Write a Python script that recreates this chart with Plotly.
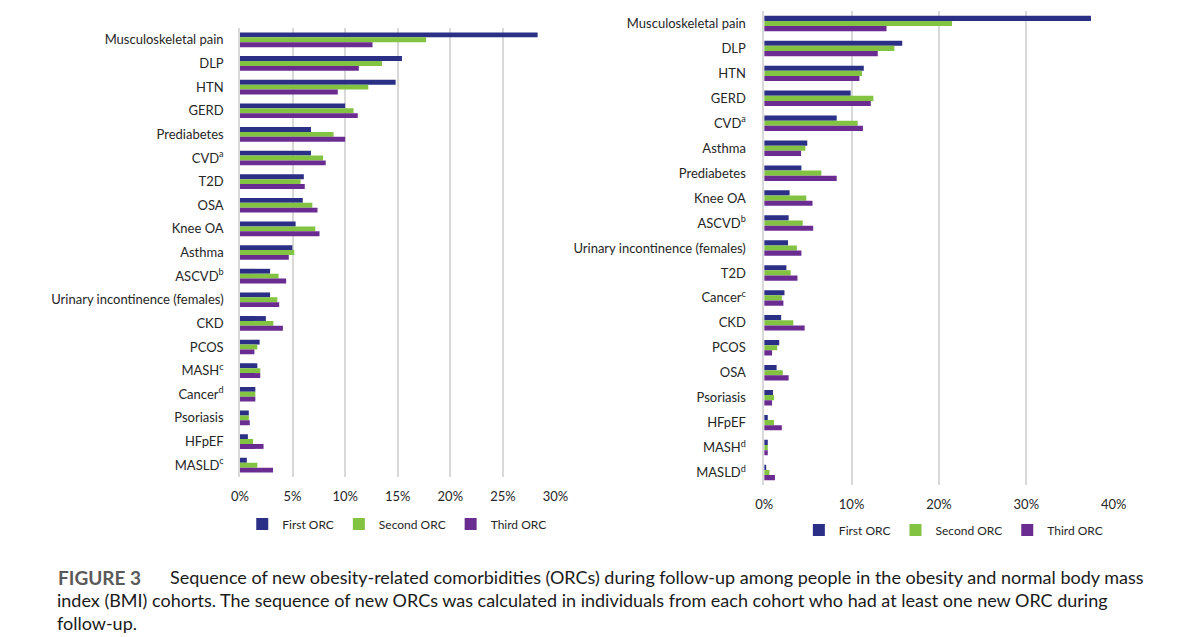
import plotly.graph_objects as go

# ---------------- data ----------------
left_categories = ["Musculoskeletal pain", "DLP", "HTN", "GERD", "Prediabetes", "CVD<sup>a</sup>", "T2D", "OSA",
                   "Knee OA", "Asthma", "ASCVD<sup>b</sup>", "Urinary incontinence (females)", "CKD", "PCOS",
                   "MASH<sup>c</sup>", "Cancer<sup>d</sup>", "Psoriasis", "HFpEF", "MASLD<sup>c</sup>"]
left_first = [28.3, 15.4, 14.8, 10.0, 6.75, 6.75, 6.07, 5.97, 5.29, 4.98, 2.86, 2.86, 2.46, 1.87, 1.65, 1.46, 0.84, 0.75, 0.65]
left_second = [17.7, 13.5, 12.2, 10.8, 8.9, 7.9, 5.76, 6.88, 7.16, 5.16, 3.67, 3.55, 3.17, 1.65, 1.93, 1.46, 0.84, 1.24, 1.65]
left_third = [12.6, 11.3, 9.3, 11.2, 10.0, 8.15, 6.16, 7.37, 7.56, 4.64, 4.39, 3.73, 4.08, 1.37, 1.93, 1.46, 0.93, 2.24, 3.14]

right_categories = ["Musculoskeletal pain", "DLP", "HTN", "GERD", "CVD<sup>a</sup>", "Asthma", "Prediabetes",
                    "Knee OA", "ASCVD<sup>b</sup>", "Urinary incontinence (females)", "T2D", "Cancer<sup>c</sup>",
                    "CKD", "PCOS", "OSA", "Psoriasis", "HFpEF", "MASH<sup>d</sup>", "MASLD<sup>d</sup>"]
right_first = [37.4, 15.8, 11.4, 9.9, 8.3, 4.93, 4.26, 2.91, 2.80, 2.73, 2.54, 2.32, 1.94, 1.72, 1.42, 1.0, 0.41, 0.41, 0.22]
right_second = [21.5, 14.9, 11.2, 12.5, 10.7, 4.71, 6.54, 4.82, 4.41, 3.74, 3.03, 2.02, 3.33, 1.49, 2.13, 1.12, 1.12, 0.41, 0.6]
right_third = [14.0, 13.0, 10.9, 12.2, 11.3, 4.22, 8.3, 5.53, 5.61, 4.26, 3.81, 2.20, 4.63, 0.9, 2.8, 0.9, 2.02, 0.41, 1.23]

series_names = ["First ORC", "Second ORC", "Third ORC"]
colors = ["#2B2F85", "#82C341", "#6B2C91"]

left_tickvals = [0, 5, 10, 15, 20, 25, 30]
left_ticktext = ["0%", "5%", "10%", "15%", "20%", "25%", "30%"]
right_tickvals = [0, 10, 20, 30, 40]
right_ticktext = ["0%", "10%", "20%", "30%", "40%"]

caption_label = "FIGURE 3"
caption_lines = [
    "Sequence of new obesity-related comorbidities (ORCs) during follow-up among people in the obesity and normal body mass",
    "index (BMI) cohorts. The sequence of new ORCs was calculated in individuals from each cohort who had at least one new ORC during",
    "follow-up.",
]

# ---------------- figure ----------------
W, H = 1200, 637
fig = go.Figure()

for vals, name, col in zip([left_first, left_second, left_third], series_names, colors):
    fig.add_trace(go.Bar(y=left_categories, x=vals, orientation="h", name=name,
                         marker=dict(color=col, line=dict(width=0)),
                         xaxis="x", yaxis="y", legend="legend"))
for vals, name, col in zip([right_first, right_second, right_third], series_names, colors):
    fig.add_trace(go.Bar(y=right_categories, x=vals, orientation="h", name=name,
                         marker=dict(color=col, line=dict(width=0)),
                         xaxis="x2", yaxis="y2", legend="legend2"))

def px_x(p):
    return p / W

def px_y(p):
    return 1 - p / H

grid = "#D9D9D9"
catfont = dict(family="Lato, Open Sans, sans-serif", size=13, color="#262626")
tickfont = dict(family="Lato, Open Sans, sans-serif", size=13, color="#262626")
legfont = dict(family="Lato, Open Sans, sans-serif", size=12, color="#262626")

fig.update_layout(
    width=W, height=H,
    margin=dict(l=0, r=0, t=0, b=0),
    paper_bgcolor="white", plot_bgcolor="white",
    barmode="group", bargap=0.38, bargroupgap=0,
    showlegend=True,
    xaxis=dict(domain=[px_x(235.3), px_x(556.7)], range=[0, 30], tickmode="array",
               tickvals=left_tickvals, ticktext=left_ticktext,
               showgrid=True, gridcolor=grid, gridwidth=1.5, zeroline=False, showline=False,
               tickfont=tickfont, anchor="y", ticks="", ticklabelstandoff=10),
    yaxis=dict(domain=[px_y(477), px_y(28)], autorange="reversed", type="category",
               showline=True, linecolor=grid, linewidth=1.5, showgrid=False,
               tickfont=catfont, anchor="x", ticks="", ticklabelstandoff=12),
    xaxis2=dict(domain=[px_x(769.3), px_x(1125.3)], range=[0, 40], tickmode="array",
                tickvals=right_tickvals, ticktext=right_ticktext,
                showgrid=True, gridcolor=grid, gridwidth=1.5, zeroline=False, showline=False,
                tickfont=tickfont, anchor="y2", ticks="", ticklabelstandoff=10),
    yaxis2=dict(domain=[px_y(485), px_y(11)], autorange="reversed", type="category",
                showline=True, linecolor=grid, linewidth=1.5, showgrid=False,
                tickfont=catfont, anchor="x2", ticks="", ticklabelstandoff=14),
    legend=dict(orientation="h", x=px_x(395), y=px_y(524), xanchor="center", yanchor="middle",
                font=legfont, itemwidth=30, bgcolor="rgba(0,0,0,0)"),
    legend2=dict(orientation="h", x=px_x(962), y=px_y(530), xanchor="center", yanchor="middle",
                 font=legfont, itemwidth=30, bgcolor="rgba(0,0,0,0)"),
)

cap_font = dict(family="Lato, Open Sans, sans-serif", size=18, color="#1a1a1a")
fig.add_annotation(xref="paper", yref="paper", x=px_x(48), y=px_y(577), xanchor="left", yanchor="middle",
                   text="<b>" + caption_label + "</b>", showarrow=False,
                   font=dict(family="Lato, Open Sans, sans-serif", size=19, color="#5a5a5a"))
fig.add_annotation(xref="paper", yref="paper", x=px_x(162), y=px_y(577), xanchor="left", yanchor="middle",
                   text=caption_lines[0], showarrow=False, font=cap_font)
fig.add_annotation(xref="paper", yref="paper", x=px_x(47), y=px_y(600), xanchor="left", yanchor="middle",
                   text=caption_lines[1], showarrow=False, font=cap_font)
fig.add_annotation(xref="paper", yref="paper", x=px_x(47), y=px_y(623), xanchor="left", yanchor="middle",
                   text=caption_lines[2], showarrow=False, font=cap_font)

fig.write_html("out.html")
